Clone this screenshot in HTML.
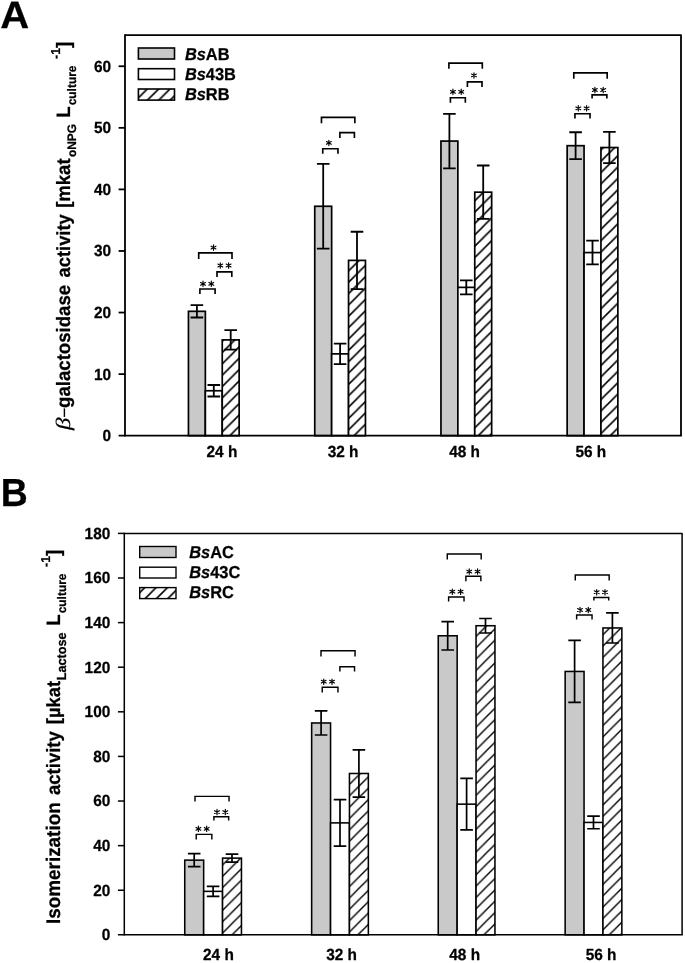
<!DOCTYPE html><html><head><meta charset="utf-8"><title>Figure</title><style>
html,body{margin:0;padding:0;background:#fff;}
svg{display:block;will-change:transform;}
text{text-rendering:geometricPrecision;}
text{font-family:"Liberation Sans",sans-serif;font-weight:bold;fill:#000;stroke:#000;stroke-width:0.25px;stroke-linejoin:round;}
.tk{font-size:15.4px;}
.lg{font-size:16.4px;}
.st{font-family:"Liberation Serif",serif;font-weight:normal;font-size:15px;stroke:#000;stroke-width:0.35px;}
.pl{font-size:38px;}
.yl{font-size:17.6px;}
.i{font-style:italic;}
</style></head><body>
<svg width="685" height="963" viewBox="0 0 685 963">
<rect width="685" height="963" fill="#fff"/>
<rect x="188.45" y="311.32" width="16.9" height="124.38" fill="#c9c9c9" stroke="#000" stroke-width="1.7"/>
<rect x="205.35" y="390.75" width="16.9" height="44.95" fill="#fff" stroke="#000" stroke-width="1.7"/>
<defs><pattern id="hA_0" patternUnits="userSpaceOnUse" width="11.35" height="11.35" x="7.25" y="0"><rect x="-1" y="-1" width="13.35" height="13.35" fill="#fff"/><path d="M-2,13.35 L13.35,-2 M-2,2 L2,-2 M9.35,13.35 L13.35,9.35" stroke="#000" stroke-width="1.55" fill="none"/></pattern></defs>
<rect x="222.25" y="339.89" width="16.9" height="95.81" fill="url(#hA_0)" stroke="#000" stroke-width="1.7"/>
<path d="M196.9,305.16 V317.48 M190.6,305.16 H203.2 M190.6,317.48 H203.2" stroke="#000" stroke-width="1.8" fill="none"/>
<path d="M213.8,385.02 V396.48 M207.5,385.02 H220.1 M207.5,396.48 H220.1" stroke="#000" stroke-width="1.8" fill="none"/>
<path d="M230.7,330.22 V349.56 M224.4,330.22 H237 M224.4,349.56 H237" stroke="#000" stroke-width="1.8" fill="none"/>
<rect x="314.75" y="206.28" width="16.9" height="229.42" fill="#c9c9c9" stroke="#000" stroke-width="1.7"/>
<rect x="331.65" y="353.87" width="16.9" height="81.83" fill="#fff" stroke="#000" stroke-width="1.7"/>
<defs><pattern id="hA_1" patternUnits="userSpaceOnUse" width="11.35" height="11.35" x="6.6" y="0"><rect x="-1" y="-1" width="13.35" height="13.35" fill="#fff"/><path d="M-2,13.35 L13.35,-2 M-2,2 L2,-2 M9.35,13.35 L13.35,9.35" stroke="#000" stroke-width="1.55" fill="none"/></pattern></defs>
<rect x="348.55" y="260.4" width="16.9" height="175.3" fill="url(#hA_1)" stroke="#000" stroke-width="1.7"/>
<path d="M323.2,163.91 V248.64 M316.9,163.91 H329.5 M316.9,248.64 H329.5" stroke="#000" stroke-width="1.8" fill="none"/>
<path d="M340.1,343.59 V364.15 M333.8,343.59 H346.4 M333.8,364.15 H346.4" stroke="#000" stroke-width="1.8" fill="none"/>
<path d="M357,231.77 V289.03 M350.7,231.77 H363.3 M350.7,289.03 H363.3" stroke="#000" stroke-width="1.8" fill="none"/>
<rect x="440.95" y="141.07" width="16.9" height="294.63" fill="#c9c9c9" stroke="#000" stroke-width="1.7"/>
<rect x="457.85" y="287.37" width="16.9" height="148.33" fill="#fff" stroke="#000" stroke-width="1.7"/>
<defs><pattern id="hA_2" patternUnits="userSpaceOnUse" width="11.35" height="11.35" x="5.95" y="0"><rect x="-1" y="-1" width="13.35" height="13.35" fill="#fff"/><path d="M-2,13.35 L13.35,-2 M-2,2 L2,-2 M9.35,13.35 L13.35,9.35" stroke="#000" stroke-width="1.55" fill="none"/></pattern></defs>
<rect x="474.75" y="192.18" width="16.9" height="243.52" fill="url(#hA_2)" stroke="#000" stroke-width="1.7"/>
<path d="M449.4,113.85 V168.28 M443.1,113.85 H455.7 M443.1,168.28 H455.7" stroke="#000" stroke-width="1.8" fill="none"/>
<path d="M466.3,280.29 V294.45 M460,280.29 H472.6 M460,294.45 H472.6" stroke="#000" stroke-width="1.8" fill="none"/>
<path d="M483.2,165.51 V218.84 M476.9,165.51 H489.5 M476.9,218.84 H489.5" stroke="#000" stroke-width="1.8" fill="none"/>
<rect x="567.15" y="145.69" width="16.9" height="290.01" fill="#c9c9c9" stroke="#000" stroke-width="1.7"/>
<rect x="584.05" y="252.58" width="16.9" height="183.12" fill="#fff" stroke="#000" stroke-width="1.7"/>
<defs><pattern id="hA_3" patternUnits="userSpaceOnUse" width="11.35" height="11.35" x="1.75" y="0"><rect x="-1" y="-1" width="13.35" height="13.35" fill="#fff"/><path d="M-2,13.35 L13.35,-2 M-2,2 L2,-2 M9.35,13.35 L13.35,9.35" stroke="#000" stroke-width="1.55" fill="none"/></pattern></defs>
<rect x="600.95" y="147.53" width="16.9" height="288.17" fill="url(#hA_3)" stroke="#000" stroke-width="1.7"/>
<path d="M575.6,132.26 V159.11 M569.3,132.26 H581.9 M569.3,159.11 H581.9" stroke="#000" stroke-width="1.8" fill="none"/>
<path d="M592.5,240.7 V264.46 M586.2,240.7 H598.8 M586.2,264.46 H598.8" stroke="#000" stroke-width="1.8" fill="none"/>
<path d="M609.4,131.96 V163.11 M603.1,131.96 H615.7 M603.1,163.11 H615.7" stroke="#000" stroke-width="1.8" fill="none"/>
<path d="M125,35.1 H681 V435.7" stroke="#000" stroke-width="1.8" fill="none" stroke-linejoin="round"/>
<path d="M125,34.2 V436.6" stroke="#000" stroke-width="1.8" fill="none"/>
<path d="M118.6,435.7 H681.9" stroke="#000" stroke-width="1.8" fill="none"/>
<text transform="translate(111,441.15) scale(1,1.05)" text-anchor="end" class="tk">0</text>
<path d="M118.6,374.13 H125" stroke="#000" stroke-width="1.8"/>
<text transform="translate(111,379.58) scale(1,1.05)" text-anchor="end" class="tk">10</text>
<path d="M118.6,312.55 H125" stroke="#000" stroke-width="1.8"/>
<text transform="translate(111,318) scale(1,1.05)" text-anchor="end" class="tk">20</text>
<path d="M118.6,250.98 H125" stroke="#000" stroke-width="1.8"/>
<text transform="translate(111,256.43) scale(1,1.05)" text-anchor="end" class="tk">30</text>
<path d="M118.6,189.4 H125" stroke="#000" stroke-width="1.8"/>
<text transform="translate(111,194.85) scale(1,1.05)" text-anchor="end" class="tk">40</text>
<path d="M118.6,127.83 H125" stroke="#000" stroke-width="1.8"/>
<text transform="translate(111,133.28) scale(1,1.05)" text-anchor="end" class="tk">50</text>
<path d="M118.6,66.26 H125" stroke="#000" stroke-width="1.8"/>
<text transform="translate(111,71.71) scale(1,1.05)" text-anchor="end" class="tk">60</text>
<text transform="translate(221.9,456.8) scale(1,1.05)" text-anchor="middle" class="tk">24 h</text>
<text transform="translate(343.1,456.8) scale(1,1.05)" text-anchor="middle" class="tk">32 h</text>
<text transform="translate(464.6,456.8) scale(1,1.05)" text-anchor="middle" class="tk">48 h</text>
<text transform="translate(590.8,456.8) scale(1,1.05)" text-anchor="middle" class="tk">56 h</text>
<path d="M198.7,258.9 V252.85 H232 V258.9" stroke="#000" stroke-width="1.65" fill="none"/>
<path transform="translate(213.5,247.6)" d="M0,-2.7V2.7M-2.4,-1.38L2.4,1.38M-2.4,1.38L2.4,-1.38" stroke="#000" stroke-width="1.15" stroke-linecap="round" fill="none"/>
<path d="M217,276.9 V271.9 H231.8 V276.9" stroke="#000" stroke-width="1.65" fill="none"/>
<path transform="translate(220.3,265.5)" d="M0,-2.7V2.7M-2.4,-1.38L2.4,1.38M-2.4,1.38L2.4,-1.38" stroke="#000" stroke-width="1.15" stroke-linecap="round" fill="none"/>
<path transform="translate(228.6,265.5)" d="M0,-2.7V2.7M-2.4,-1.38L2.4,1.38M-2.4,1.38L2.4,-1.38" stroke="#000" stroke-width="1.15" stroke-linecap="round" fill="none"/>
<path d="M199.9,294 V288.95 H215.1 V294" stroke="#000" stroke-width="1.65" fill="none"/>
<path transform="translate(203,283.8)" d="M0,-2.7V2.7M-2.4,-1.38L2.4,1.38M-2.4,1.38L2.4,-1.38" stroke="#000" stroke-width="1.15" stroke-linecap="round" fill="none"/>
<path transform="translate(211.3,283.8)" d="M0,-2.7V2.7M-2.4,-1.38L2.4,1.38M-2.4,1.38L2.4,-1.38" stroke="#000" stroke-width="1.15" stroke-linecap="round" fill="none"/>
<path d="M321.46,123.2 V117.43 H354.86 V123.2" stroke="#000" stroke-width="1.65" fill="none"/>
<path d="M339.9,138.1 V132.66 H354.4 V138.1" stroke="#000" stroke-width="1.65" fill="none"/>
<path d="M322.74,153.85 V148.7 H337.97 V153.85" stroke="#000" stroke-width="1.65" fill="none"/>
<path transform="translate(328.85,142.9)" d="M0,-2.7V2.7M-2.4,-1.38L2.4,1.38M-2.4,1.38L2.4,-1.38" stroke="#000" stroke-width="1.15" stroke-linecap="round" fill="none"/>
<path d="M448.9,68.8 V63.05 H482.3 V68.8" stroke="#000" stroke-width="1.65" fill="none"/>
<path d="M467.4,87 V81.87 H482 V87" stroke="#000" stroke-width="1.65" fill="none"/>
<path transform="translate(473.96,75.45)" d="M0,-2.7V2.7M-2.4,-1.38L2.4,1.38M-2.4,1.38L2.4,-1.38" stroke="#000" stroke-width="1.15" stroke-linecap="round" fill="none"/>
<path d="M450.4,102.75 V97.73 H465.35 V102.75" stroke="#000" stroke-width="1.65" fill="none"/>
<path transform="translate(452.92,91.83)" d="M0,-2.7V2.7M-2.4,-1.38L2.4,1.38M-2.4,1.38L2.4,-1.38" stroke="#000" stroke-width="1.15" stroke-linecap="round" fill="none"/>
<path transform="translate(461.22,91.83)" d="M0,-2.7V2.7M-2.4,-1.38L2.4,1.38M-2.4,1.38L2.4,-1.38" stroke="#000" stroke-width="1.15" stroke-linecap="round" fill="none"/>
<path d="M573.78,78.65 V72.86 H607.18 V78.65" stroke="#000" stroke-width="1.65" fill="none"/>
<path d="M592.1,98.56 V94.83 H606.86 V98.56" stroke="#000" stroke-width="1.65" fill="none"/>
<path transform="translate(594.88,90)" d="M0,-2.7V2.7M-2.4,-1.38L2.4,1.38M-2.4,1.38L2.4,-1.38" stroke="#000" stroke-width="1.15" stroke-linecap="round" fill="none"/>
<path transform="translate(603.18,90)" d="M0,-2.7V2.7M-2.4,-1.38L2.4,1.38M-2.4,1.38L2.4,-1.38" stroke="#000" stroke-width="1.15" stroke-linecap="round" fill="none"/>
<path d="M574.94,118.6 V113.78 H590.03 V118.6" stroke="#000" stroke-width="1.65" fill="none"/>
<path transform="translate(578.3,108.3)" d="M0,-2.7V2.7M-2.4,-1.38L2.4,1.38M-2.4,1.38L2.4,-1.38" stroke="#000" stroke-width="1.15" stroke-linecap="round" fill="none"/>
<path transform="translate(586.6,108.3)" d="M0,-2.7V2.7M-2.4,-1.38L2.4,1.38M-2.4,1.38L2.4,-1.38" stroke="#000" stroke-width="1.15" stroke-linecap="round" fill="none"/>
<rect x="184.75" y="860.14" width="18.9" height="74.71" fill="#c9c9c9" stroke="#000" stroke-width="1.55"/>
<rect x="203.65" y="891.36" width="18.9" height="43.49" fill="#fff" stroke="#000" stroke-width="1.55"/>
<defs><pattern id="hB_0" patternUnits="userSpaceOnUse" width="11.35" height="11.35" x="9.25" y="0"><rect x="-1" y="-1" width="13.35" height="13.35" fill="#fff"/><path d="M-2,13.35 L13.35,-2 M-2,2 L2,-2 M9.35,13.35 L13.35,9.35" stroke="#000" stroke-width="1.4" fill="none"/></pattern></defs>
<rect x="222.55" y="858.13" width="18.9" height="76.72" fill="url(#hB_0)" stroke="#000" stroke-width="1.55"/>
<path d="M194.2,853.67 V866.6 M187.9,853.67 H200.5 M187.9,866.6 H200.5" stroke="#000" stroke-width="1.7" fill="none"/>
<path d="M213.1,886.32 V896.4 M206.8,886.32 H219.4 M206.8,896.4 H219.4" stroke="#000" stroke-width="1.7" fill="none"/>
<path d="M232,854.11 V862.14 M225.7,854.11 H238.3 M225.7,862.14 H238.3" stroke="#000" stroke-width="1.7" fill="none"/>
<rect x="311.65" y="722.97" width="18.9" height="211.88" fill="#c9c9c9" stroke="#000" stroke-width="1.55"/>
<rect x="330.55" y="822.89" width="18.9" height="111.96" fill="#fff" stroke="#000" stroke-width="1.55"/>
<defs><pattern id="hB_1" patternUnits="userSpaceOnUse" width="11.35" height="11.35" x="10.2" y="0"><rect x="-1" y="-1" width="13.35" height="13.35" fill="#fff"/><path d="M-2,13.35 L13.35,-2 M-2,2 L2,-2 M9.35,13.35 L13.35,9.35" stroke="#000" stroke-width="1.4" fill="none"/></pattern></defs>
<rect x="349.45" y="773.49" width="18.9" height="161.36" fill="url(#hB_1)" stroke="#000" stroke-width="1.55"/>
<path d="M321.1,710.93 V735.02 M314.8,710.93 H327.4 M314.8,735.02 H327.4" stroke="#000" stroke-width="1.7" fill="none"/>
<path d="M340,799.7 V846.08 M333.7,799.7 H346.3 M333.7,846.08 H346.3" stroke="#000" stroke-width="1.7" fill="none"/>
<path d="M358.9,749.85 V797.13 M352.6,749.85 H365.2 M352.6,797.13 H365.2" stroke="#000" stroke-width="1.7" fill="none"/>
<rect x="438.25" y="635.77" width="18.9" height="299.08" fill="#c9c9c9" stroke="#000" stroke-width="1.55"/>
<rect x="457.15" y="804.16" width="18.9" height="130.69" fill="#fff" stroke="#000" stroke-width="1.55"/>
<defs><pattern id="hB_2" patternUnits="userSpaceOnUse" width="11.35" height="11.35" x="0.1" y="0"><rect x="-1" y="-1" width="13.35" height="13.35" fill="#fff"/><path d="M-2,13.35 L13.35,-2 M-2,2 L2,-2 M9.35,13.35 L13.35,9.35" stroke="#000" stroke-width="1.4" fill="none"/></pattern></defs>
<rect x="476.05" y="625.73" width="18.9" height="309.12" fill="url(#hB_2)" stroke="#000" stroke-width="1.55"/>
<path d="M447.7,621.56 V649.98 M441.4,621.56 H454 M441.4,649.98 H454" stroke="#000" stroke-width="1.7" fill="none"/>
<path d="M466.6,778.4 V829.92 M460.3,778.4 H472.9 M460.3,829.92 H472.9" stroke="#000" stroke-width="1.7" fill="none"/>
<path d="M485.5,618.49 V632.98 M479.2,618.49 H491.8 M479.2,632.98 H491.8" stroke="#000" stroke-width="1.7" fill="none"/>
<rect x="565.15" y="671.45" width="18.9" height="263.4" fill="#c9c9c9" stroke="#000" stroke-width="1.55"/>
<rect x="584.05" y="822.44" width="18.9" height="112.41" fill="#fff" stroke="#000" stroke-width="1.55"/>
<defs><pattern id="hB_3" patternUnits="userSpaceOnUse" width="11.35" height="11.35" x="0.5" y="0"><rect x="-1" y="-1" width="13.35" height="13.35" fill="#fff"/><path d="M-2,13.35 L13.35,-2 M-2,2 L2,-2 M9.35,13.35 L13.35,9.35" stroke="#000" stroke-width="1.4" fill="none"/></pattern></defs>
<rect x="602.95" y="627.96" width="18.9" height="306.89" fill="url(#hB_3)" stroke="#000" stroke-width="1.55"/>
<path d="M574.6,640.45 V702.46 M568.3,640.45 H580.9 M568.3,702.46 H580.9" stroke="#000" stroke-width="1.7" fill="none"/>
<path d="M593.5,816.13 V828.76 M587.2,816.13 H599.8 M587.2,828.76 H599.8" stroke="#000" stroke-width="1.7" fill="none"/>
<path d="M612.4,612.91 V643.02 M606.1,612.91 H618.7 M606.1,643.02 H618.7" stroke="#000" stroke-width="1.7" fill="none"/>
<path d="M124.3,533.4 H682.1 V934.85" stroke="#000" stroke-width="1.5" fill="none" stroke-linejoin="round"/>
<path d="M124.3,532.65 V935.6" stroke="#000" stroke-width="1.5" fill="none"/>
<path d="M117.9,934.85 H682.85" stroke="#000" stroke-width="1.5" fill="none"/>
<text transform="translate(110.3,940.3) scale(1,1.05)" text-anchor="end" class="tk">0</text>
<path d="M117.9,890.24 H124.3" stroke="#000" stroke-width="1.5"/>
<text transform="translate(110.3,895.69) scale(1,1.05)" text-anchor="end" class="tk">20</text>
<path d="M117.9,845.64 H124.3" stroke="#000" stroke-width="1.5"/>
<text transform="translate(110.3,851.09) scale(1,1.05)" text-anchor="end" class="tk">40</text>
<path d="M117.9,801.03 H124.3" stroke="#000" stroke-width="1.5"/>
<text transform="translate(110.3,806.48) scale(1,1.05)" text-anchor="end" class="tk">60</text>
<path d="M117.9,756.43 H124.3" stroke="#000" stroke-width="1.5"/>
<text transform="translate(110.3,761.88) scale(1,1.05)" text-anchor="end" class="tk">80</text>
<path d="M117.9,711.82 H124.3" stroke="#000" stroke-width="1.5"/>
<text transform="translate(110.3,717.27) scale(1,1.05)" text-anchor="end" class="tk">100</text>
<path d="M117.9,667.22 H124.3" stroke="#000" stroke-width="1.5"/>
<text transform="translate(110.3,672.67) scale(1,1.05)" text-anchor="end" class="tk">120</text>
<path d="M117.9,622.61 H124.3" stroke="#000" stroke-width="1.5"/>
<text transform="translate(110.3,628.06) scale(1,1.05)" text-anchor="end" class="tk">140</text>
<path d="M117.9,578.01 H124.3" stroke="#000" stroke-width="1.5"/>
<text transform="translate(110.3,583.46) scale(1,1.05)" text-anchor="end" class="tk">160</text>
<path d="M117.9,533.4 H124.3" stroke="#000" stroke-width="1.5"/>
<text transform="translate(110.3,538.85) scale(1,1.05)" text-anchor="end" class="tk">180</text>
<text transform="translate(218.4,960.3) scale(1,1.05)" text-anchor="middle" class="tk">24 h</text>
<text transform="translate(341.6,960.3) scale(1,1.05)" text-anchor="middle" class="tk">32 h</text>
<text transform="translate(464.7,960.3) scale(1,1.05)" text-anchor="middle" class="tk">48 h</text>
<text transform="translate(601.1,960.3) scale(1,1.05)" text-anchor="middle" class="tk">56 h</text>
<path d="M195,801.6 V796.35 H229.05 V801.6" stroke="#000" stroke-width="1.45" fill="none"/>
<path d="M213.9,820.6 V816.78 H228.67 V820.6" stroke="#000" stroke-width="1.45" fill="none"/>
<path transform="translate(217,812.1)" d="M0,-2.7V2.7M-2.4,-1.38L2.4,1.38M-2.4,1.38L2.4,-1.38" stroke="#000" stroke-width="1.15" stroke-linecap="round" fill="none"/>
<path transform="translate(225.3,812.1)" d="M0,-2.7V2.7M-2.4,-1.38L2.4,1.38M-2.4,1.38L2.4,-1.38" stroke="#000" stroke-width="1.15" stroke-linecap="round" fill="none"/>
<path d="M196.23,839.4 V834.38 H211.84 V839.4" stroke="#000" stroke-width="1.45" fill="none"/>
<path transform="translate(198.38,828.8)" d="M0,-2.7V2.7M-2.4,-1.38L2.4,1.38M-2.4,1.38L2.4,-1.38" stroke="#000" stroke-width="1.15" stroke-linecap="round" fill="none"/>
<path transform="translate(206.68,828.8)" d="M0,-2.7V2.7M-2.4,-1.38L2.4,1.38M-2.4,1.38L2.4,-1.38" stroke="#000" stroke-width="1.15" stroke-linecap="round" fill="none"/>
<path d="M321,656.45 V650.67 H355.05 V656.45" stroke="#000" stroke-width="1.45" fill="none"/>
<path d="M339.9,671.55 V666.73 H354.54 V671.55" stroke="#000" stroke-width="1.45" fill="none"/>
<path d="M322.23,692.4 V687.29 H337.97 V692.4" stroke="#000" stroke-width="1.45" fill="none"/>
<path transform="translate(323.73,681.7)" d="M0,-2.7V2.7M-2.4,-1.38L2.4,1.38M-2.4,1.38L2.4,-1.38" stroke="#000" stroke-width="1.15" stroke-linecap="round" fill="none"/>
<path transform="translate(332.03,681.7)" d="M0,-2.7V2.7M-2.4,-1.38L2.4,1.38M-2.4,1.38L2.4,-1.38" stroke="#000" stroke-width="1.15" stroke-linecap="round" fill="none"/>
<path d="M447.27,559.5 V554.03 H481.18 V559.5" stroke="#000" stroke-width="1.45" fill="none"/>
<path d="M465.9,581.2 V576.19 H480.86 V581.2" stroke="#000" stroke-width="1.45" fill="none"/>
<path transform="translate(469.26,571.57)" d="M0,-2.7V2.7M-2.4,-1.38L2.4,1.38M-2.4,1.38L2.4,-1.38" stroke="#000" stroke-width="1.15" stroke-linecap="round" fill="none"/>
<path transform="translate(477.56,571.57)" d="M0,-2.7V2.7M-2.4,-1.38L2.4,1.38M-2.4,1.38L2.4,-1.38" stroke="#000" stroke-width="1.15" stroke-linecap="round" fill="none"/>
<path d="M448.62,601.56 V597.07 H464.03 V601.56" stroke="#000" stroke-width="1.45" fill="none"/>
<path transform="translate(452.3,591.74)" d="M0,-2.7V2.7M-2.4,-1.38L2.4,1.38M-2.4,1.38L2.4,-1.38" stroke="#000" stroke-width="1.15" stroke-linecap="round" fill="none"/>
<path transform="translate(460.6,591.74)" d="M0,-2.7V2.7M-2.4,-1.38L2.4,1.38M-2.4,1.38L2.4,-1.38" stroke="#000" stroke-width="1.15" stroke-linecap="round" fill="none"/>
<path d="M575.27,580.45 V575 H609.18 V580.45" stroke="#000" stroke-width="1.45" fill="none"/>
<path d="M593.9,600.56 V597.47 H608.73 V600.56" stroke="#000" stroke-width="1.45" fill="none"/>
<path transform="translate(596.68,592.2)" d="M0,-2.7V2.7M-2.4,-1.38L2.4,1.38M-2.4,1.38L2.4,-1.38" stroke="#000" stroke-width="1.15" stroke-linecap="round" fill="none"/>
<path transform="translate(604.98,592.2)" d="M0,-2.7V2.7M-2.4,-1.38L2.4,1.38M-2.4,1.38L2.4,-1.38" stroke="#000" stroke-width="1.15" stroke-linecap="round" fill="none"/>
<path d="M576.62,619.44 V614.95 H592.03 V619.44" stroke="#000" stroke-width="1.45" fill="none"/>
<path transform="translate(579.98,610)" d="M0,-2.7V2.7M-2.4,-1.38L2.4,1.38M-2.4,1.38L2.4,-1.38" stroke="#000" stroke-width="1.15" stroke-linecap="round" fill="none"/>
<path transform="translate(588.28,610)" d="M0,-2.7V2.7M-2.4,-1.38L2.4,1.38M-2.4,1.38L2.4,-1.38" stroke="#000" stroke-width="1.15" stroke-linecap="round" fill="none"/>
<defs><pattern id="hlA" patternUnits="userSpaceOnUse" width="11.35" height="11.35" x="9.25" y="0"><rect x="-1" y="-1" width="13.35" height="13.35" fill="#fff"/><path d="M-2,13.35 L13.35,-2 M-2,2 L2,-2 M9.35,13.35 L13.35,9.35" stroke="#000" stroke-width="1.6" fill="none"/></pattern></defs>
<rect x="138.4" y="48" width="36.1" height="11" fill="#c9c9c9" stroke="#000" stroke-width="1.6"/>
<text transform="translate(184.9,59.7) scale(1,1.05)" class="lg"><tspan class="i">Bs</tspan>AB</text>
<rect x="138.4" y="68.7" width="36.1" height="10.8" fill="#fff" stroke="#000" stroke-width="1.6"/>
<text transform="translate(184.9,79.7) scale(1,1.05)" class="lg"><tspan class="i">Bs</tspan>43B</text>
<rect x="138.4" y="89" width="36.1" height="11.1" fill="url(#hlA)" stroke="#000" stroke-width="1.6"/>
<text transform="translate(184.9,100.2) scale(1,1.05)" class="lg"><tspan class="i">Bs</tspan>RB</text>
<defs><pattern id="hlB" patternUnits="userSpaceOnUse" width="11.35" height="11.35" x="5.95" y="0"><rect x="-1" y="-1" width="13.35" height="13.35" fill="#fff"/><path d="M-2,13.35 L13.35,-2 M-2,2 L2,-2 M9.35,13.35 L13.35,9.35" stroke="#000" stroke-width="1.6" fill="none"/></pattern></defs>
<rect x="139.7" y="546.5" width="36.3" height="11" fill="#c9c9c9" stroke="#000" stroke-width="1.4"/>
<text transform="translate(189.2,557.5) scale(1,1.05)" class="lg"><tspan class="i">Bs</tspan>AC</text>
<rect x="139.7" y="567.2" width="36.3" height="10.8" fill="#fff" stroke="#000" stroke-width="1.4"/>
<text transform="translate(189.2,577.6) scale(1,1.05)" class="lg"><tspan class="i">Bs</tspan>43C</text>
<rect x="139.7" y="587.6" width="36.3" height="11" fill="url(#hlB)" stroke="#000" stroke-width="1.4"/>
<text transform="translate(189.2,597.5) scale(1,1.05)" class="lg"><tspan class="i">Bs</tspan>RC</text>
<text transform="translate(0.2,27.9) scale(1.055,1)" class="pl">A</text>
<text transform="translate(0.7,505.5) scale(0.985,1.03)" class="pl">B</text>
<text transform="translate(70.1,407.96) rotate(-90) scale(1,1.04)" style="font-size:18.61px" >galactosidase</text>
<text transform="translate(70.1,277.43) rotate(-90) scale(1,1.04)" style="font-size:18.32px" >activity</text>
<text transform="translate(70.1,207.84) rotate(-90) scale(1,1.04)" style="font-size:18.55px" >[mkat</text>
<text transform="translate(76.3,157.06) rotate(-90) scale(1,1.04)" style="font-size:11.88px" >oNPG</text>
<text transform="translate(70.1,117.83) rotate(-90) scale(1,1.04)" style="font-size:18.6px" >L</text>
<text transform="translate(76.3,105.26) rotate(-90) scale(1,1.04)" style="font-size:11.9px" >culture</text>
<text transform="translate(59.9,58.88) rotate(-90) scale(1,1.04)" style="font-size:12.4px" >-1</text>
<text transform="translate(70.1,47.92) rotate(-90) scale(1,1.04)" style="font-size:18.6px" >]</text>
<text transform="translate(70.1,430.0) rotate(-90) scale(1.25,1.02)" style="font-family:'Liberation Serif',serif;font-style:italic;font-weight:normal;font-size:20px;stroke-width:0.15px">β</text>
<path d="M64.4,416.9 V408.4" stroke="#000" stroke-width="1.4"/>
<text transform="translate(60,924.05) rotate(-90) scale(1,1.04)" style="font-size:18.9px" >Isomerization</text>
<text transform="translate(60,795.04) rotate(-90) scale(1,1.04)" style="font-size:18.55px" >activity</text>
<text transform="translate(60,724.23) rotate(-90) scale(1,1.04)" style="font-size:18.36px" >[µkat</text>
<text transform="translate(66.2,680.24) rotate(-90) scale(1,1.04)" style="font-size:12.67px" >Lactose</text>
<text transform="translate(60,625.83) rotate(-90) scale(1,1.04)" style="font-size:18.6px" >L</text>
<text transform="translate(66.2,613.26) rotate(-90) scale(1,1.04)" style="font-size:11.9px" >culture</text>
<text transform="translate(49.8,566.88) rotate(-90) scale(1,1.04)" style="font-size:12.4px" >-1</text>
<text transform="translate(60,555.92) rotate(-90) scale(1,1.04)" style="font-size:18.6px" >]</text>
</svg></body></html>
